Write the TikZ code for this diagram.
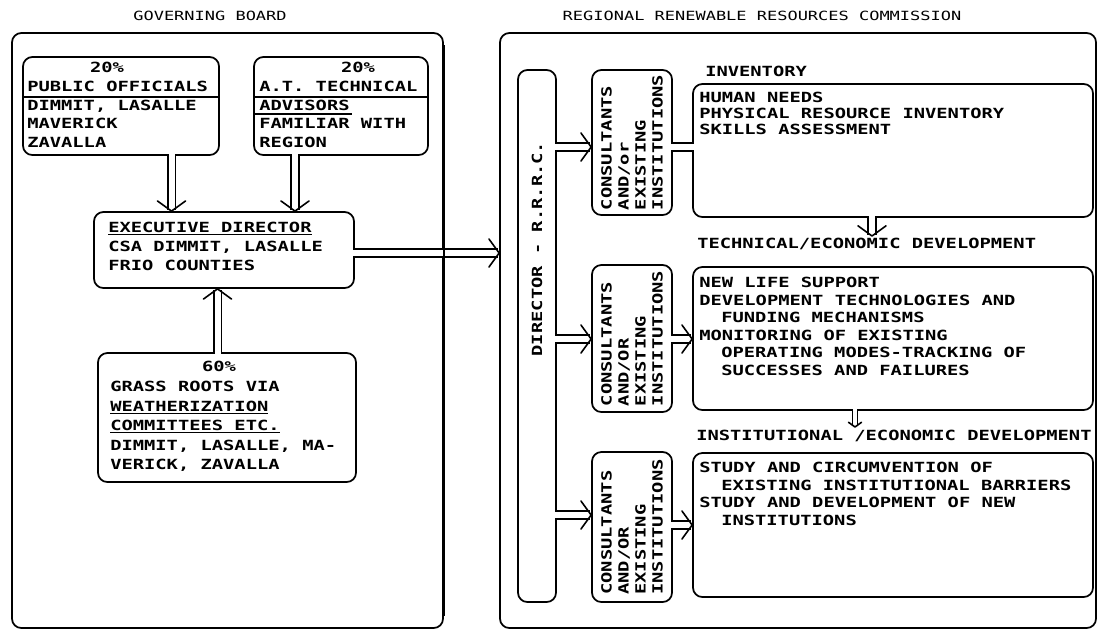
\documentclass[tikz,border=0pt]{standalone}
\usepackage{fontspec}
\newfontfamily\lett[FakeStretch=1.34]{DejaVu Sans Mono}
\usetikzlibrary{calc,fit}
% open V arrow head: [arm length]{tip}{direction angle}
\newcommand\vhead[3][13pt]{\draw[headln] ($(#2)+(#3+126:#1)$) -- (#2) -- ($(#2)+(#3-126:#1)$);}

\begin{document}
\begin{tikzpicture}[x=0.75pt, y=-0.75pt,
  box/.style={draw, rounded corners=7pt, line width=1.3pt, inner sep=0pt},
  pipe/.style={double, double distance=4.5pt, line width=1.2pt},
  thinpipe/.style={double, double distance=2.5pt, line width=1.1pt},
  headln/.style={line width=1.2pt, line join=round, line cap=round},
  lbl/.style={font=\lett\bfseries\fontsize{10.5}{#1}\selectfont, inner sep=0pt, align=left, anchor=north west},
  lbl/.default=14,
  title/.style={font=\lett\fontsize{9.5}{12}\selectfont, inner sep=0pt},
  vert/.style={font=\lett\bfseries\fontsize{10.5}{12.8}\selectfont, inner sep=0pt, align=left, rotate=90},
  rule/.style={line width=1.1pt}]
\useasboundingbox (0,0) rectangle (1098,633);

% ---- titles
\node[title] (tgb) at (210,16) {GOVERNING BOARD};
\node[title] (trc) at (762,16) {REGIONAL RENEWABLE RESOURCES COMMISSION};

% ---- governing board
\node[box, fit={(12,33) (443,628)}] (gb) {};
\node[box, fit={(23,57) (219,155)}] (pub) {};
\node[box, fit={(254,57) (428,155)}] (tec) {};
\node[box, fit={(94,212) (354,288)}] (exe) {};
\node[box, fit={(98,353) (356,482)}] (grs) {};

\node[lbl, anchor=north] (pubp) at (107,62) {20\%};
\node[lbl] (pubt) at (27,81) {PUBLIC OFFICIALS\\DIMMIT, LASALLE\\MAVERICK\\ZAVALLA};
\node[lbl, anchor=north] (tecp) at (358,62) {20\%};
\node[lbl] (tect) at (259,81) {A.T. TECHNICAL\\ADVISORS\\FAMILIAR WITH\\REGION};
\coordinate (r1) at (0,97);
\coordinate (r2) at (352,114);
\draw[rule] (pub.west |- r1) -- (pub.east |- r1);
\draw[rule] (tec.west |- r1) -- (tec.east |- r1);
\draw[rule] (tec.west |- r2) -- (r2);

\node[lbl] (exet) at (108,222) {\underline{EXECUTIVE DIRECTOR}\\CSA DIMMIT, LASALLE\\FRIO COUNTIES};

\node[lbl, anchor=north] (grsp) at (219,361) {60\%};
\node[lbl=14.6] (grst) at (110,381) {GRASS ROOTS VIA\\\underline{WEATHERIZATION}\\\underline{COMMITTEES ETC.}\\DIMMIT, LASALLE, MA-\\VERICK, ZAVALLA};

% ---- regional commission
\node[box, fit={(500,33) (1096,628)}] (rc) {};
\node[box, fit={(518,70) (556,602)}] (dir) {};
\node[vert] (dirt) at (537,249) {DIRECTOR - R.R.R.C.};

\node[box, fit={(592,70) (672,215)}] (con1) {};
\node[box, fit={(592,265) (672,412)}] (con2) {};
\node[box, fit={(592,452) (672,602)}] (con3) {};
\node[vert] (con1t) at (con1.center) {CONSULTANTS\\AND/or\\EXISTING\\INSTITUTIONS};
\node[vert] (con2t) at (con2.center) {CONSULTANTS\\AND/OR\\EXISTING\\INSTITUTIONS};
\node[vert] (con3t) at (con3.center) {CONSULTANTS\\AND/OR\\EXISTING\\INSTITUTIONS};

\node[box, fit={(693,84) (1093,217)}] (inv) {};
\node[box, fit={(693,267) (1093,410)}] (tdv) {};
\node[box, fit={(693,453) (1093,597)}] (idv) {};

\node[lbl] (invl) at (705,66) {INVENTORY};
\node[lbl=12] (invt) at (699,92) {HUMAN NEEDS\\PHYSICAL RESOURCE INVENTORY\\SKILLS ASSESSMENT};
\node[lbl] (tdvl) at (697,238) {TECHNICAL/ECONOMIC DEVELOPMENT};
\node[lbl=13.1] (tdvt) at (699,277) {NEW LIFE SUPPORT\\DEVELOPMENT TECHNOLOGIES AND\\\hspace*{16.5pt}FUNDING MECHANISMS\\MONITORING OF EXISTING\\\hspace*{16.5pt}OPERATING MODES-TRACKING OF\\\hspace*{16.5pt}SUCCESSES AND FAILURES};
\node[lbl] (idvl) at (696,430) {INSTITUTIONAL /ECONOMIC DEVELOPMENT};
\node[lbl=13.1] (idvt) at (699,462) {STUDY AND CIRCUMVENTION OF\\\hspace*{16.5pt}EXISTING INSTITUTIONAL BARRIERS\\STUDY AND DEVELOPMENT OF NEW\\\hspace*{16.5pt}INSTITUTIONS};

% ---- connectors (double-line pipes with open heads)
\coordinate (xa) at (171.5,0);
\coordinate (xb) at (295,0);
\coordinate (xc) at (217.5,0);
\coordinate (ya) at (0,253);
\coordinate (ta) at (xa |- exe.north);
\coordinate (tb) at (xb |- exe.north);
\coordinate (tc) at (xc |- exe.south);
\coordinate (td) at (rc.west |- ya);

\draw[pipe, shorten <=-1.2pt, shorten >=1pt] (xa |- pub.south) -- (ta);
\vhead{ta}{-90}
\draw[pipe, shorten <=-1.2pt, shorten >=1pt] (xb |- tec.south) -- (tb);
\vhead{tb}{-90}
\draw[pipe, shorten <=-1.2pt, shorten >=1pt] (xc |- grs.north) -- (tc);
\vhead{tc}{90}
\draw[pipe, shorten <=-1.2pt, shorten >=1pt] (exe.east |- ya) -- (td);
\vhead{td}{0}
\draw[line width=1.3pt] ([yshift=-10pt]gb.north east) -- ([yshift=10pt]gb.south east);

\coordinate (y1) at (0,147);
\coordinate (y2) at (0,339);
\coordinate (y3) at (0,515);
\coordinate (y4) at (0,525);
\coordinate (t1) at (con1.west |- y1);
\coordinate (t2) at (con2.west |- y2);
\coordinate (t3) at (con3.west |- y3);
\coordinate (u2) at (tdv.west |- y2);
\coordinate (u3) at (idv.west |- y4);

\draw[pipe, shorten <=-1.2pt, shorten >=1pt] (dir.east |- y1) -- (t1);
\vhead{t1}{0}
\draw[pipe, shorten <=-1.2pt, shorten >=-1.2pt] (con1.east |- y1) -- (inv.west |- y1);
\draw[pipe, shorten <=-1.2pt, shorten >=1pt] (dir.east |- y2) -- (t2);
\vhead{t2}{0}
\draw[pipe, shorten <=-1.2pt, shorten >=1pt] (con2.east |- y2) -- (u2);
\vhead{u2}{0}
\draw[pipe, shorten <=-1.2pt, shorten >=1pt] (dir.east |- y3) -- (t3);
\vhead{t3}{0}
\draw[pipe, shorten <=-1.2pt, shorten >=1pt] (con3.east |- y4) -- (u3);
\vhead{u3}{0}

\coordinate (x4) at (872,0);
\coordinate (t7) at (872,236);
\draw[pipe, shorten <=-1.2pt, shorten >=1pt] (x4 |- inv.south) -- (t7);
\vhead{t7}{-90}
\coordinate (x5) at (855,0);
\coordinate (t8) at (855,427);
\draw[thinpipe, shorten <=-1.2pt, shorten >=1pt] (x5 |- tdv.south) -- (t8);
\vhead[6pt]{t8}{-90}
\end{tikzpicture}
\end{document}
